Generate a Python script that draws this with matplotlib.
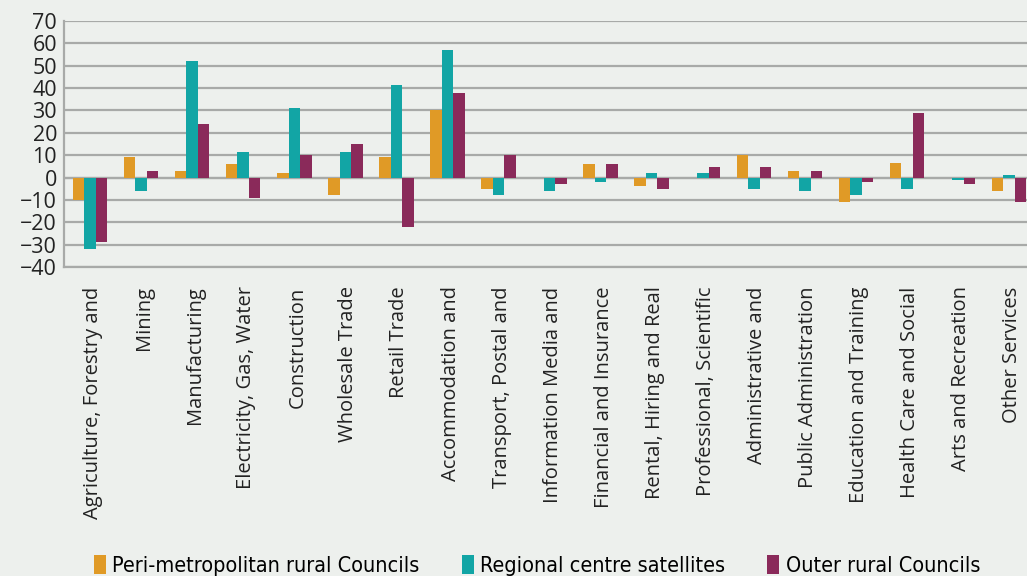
import matplotlib
matplotlib.use("Agg")
import matplotlib.pyplot as plt
import numpy as np
from matplotlib.patches import Patch

categories = ["Agriculture, Forestry and", "Mining", "Manufacturing", "Electricity, Gas, Water",
              "Construction", "Wholesale Trade", "Retail Trade", "Accommodation and",
              "Transport, Postal and", "Information Media and", "Financial and Insurance",
              "Rental, Hiring and Real", "Professional, Scientific", "Administrative and",
              "Public Administration", "Education and Training", "Health Care and Social",
              "Arts and Recreation", "Other Services"]
peri = [-10, 9, 3, 6, 2, -8, 9, 30, -5, 0, 6, -4, 0, 10, 3, -11, 6.5, 0, -6]
regional = [-32, -6, 52, 11.5, 31, 11.5, 41.5, 57, -8, -6, -2, 2, 2, -5, -6, -8, -5, -1, 1]
outer = [-29, 3, 24, -9, 10, 15, -22, 38, 10, -3, 6, -5, 4.5, 4.5, 3, -2, 29, -3, -11]
series_names = ["Peri-metropolitan rural Councils", "Regional centre satellites", "Outer rural Councils"]
colors = ["#e09a26", "#12a5a5", "#8a2a5a"]
yticks = list(range(-40, 71, 10))

bg = "#edf0ed"
fig = plt.figure(figsize=(10.27, 5.76), dpi=100, facecolor=bg)
ax = fig.add_axes([64/1027, 1-267/576, (1027-64)/1027, (267-21)/576], facecolor=bg)

x = np.arange(len(categories))
w = 0.225
for i, (vals, c) in enumerate(zip([peri, regional, outer], colors)):
    ax.bar(x + (i - 1) * w, vals, width=w, color=c, zorder=3)

ax.set_ylim(-40, 70)
ax.set_yticks(yticks)
ax.set_xlim(-0.51, 18.35)
ax.grid(axis="y", color="#a8aaa8", linewidth=1.6, zorder=0)
ax.axhline(0, color="#a8aaa8", linewidth=1.6, zorder=1)
for s in ["top", "right"]:
    ax.spines[s].set_visible(False)
ax.spines["left"].set_color("#a8aaa8")
ax.spines["left"].set_linewidth(1.6)
ax.spines["bottom"].set_color("#a8aaa8")
ax.spines["bottom"].set_linewidth(1.6)
ax.set_xticks(x + 0.06)
ax.set_xticklabels(categories, rotation=90, fontsize=14.5, family="Open Sans", color="#222222")
ax.tick_params(axis="x", length=0, pad=14)
ax.tick_params(axis="y", length=0, pad=5, labelsize=15.5, labelcolor="#222222")
for lab in ax.get_yticklabels():
    lab.set_family("Open Sans")

handles = [Patch(facecolor=c, edgecolor="none") for c in colors]
fig.legend(handles, series_names, loc="lower center", bbox_to_anchor=(0.523, -0.033), ncol=3,
           frameon=False, handlelength=0.55, handleheight=1.0, handletextpad=0.3, columnspacing=1.95,
           prop={"family": "DejaVu Sans", "stretch": "condensed", "size": 15.5})

fig.savefig("out.png", dpi=100, facecolor=bg)
